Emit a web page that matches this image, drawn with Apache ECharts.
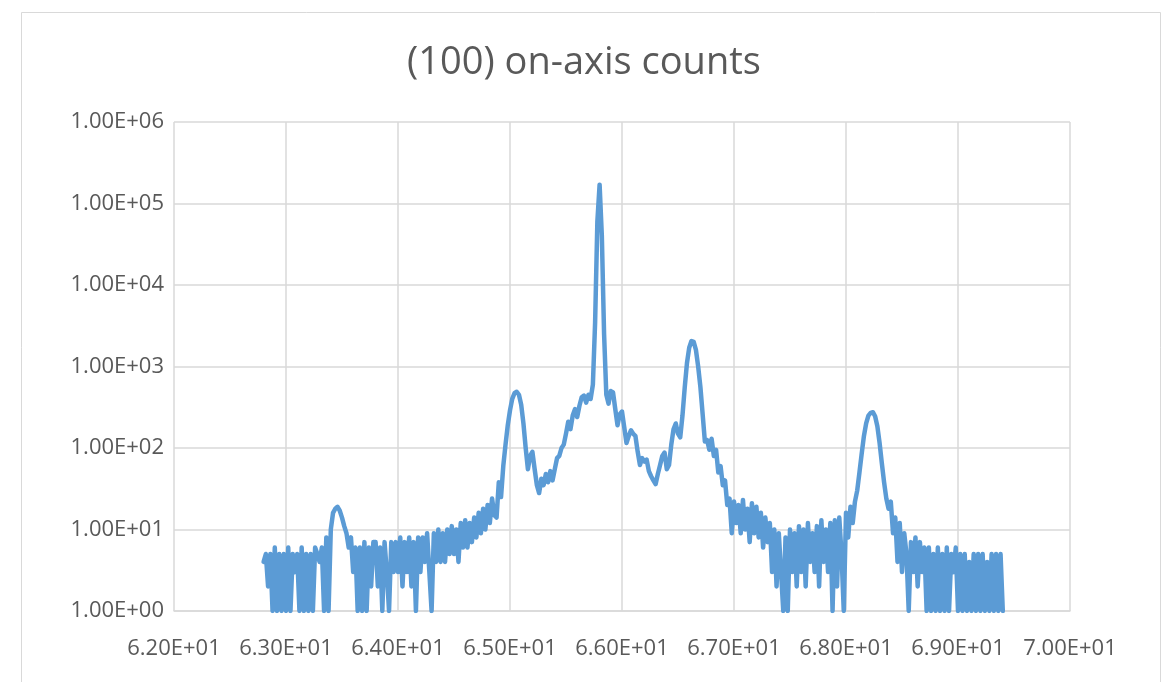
<!DOCTYPE html>
<html><head><meta charset="utf-8">
<script src="https://cdn.jsdelivr.net/npm/echarts@6/dist/echarts.min.js"></script>
<style>html,body{margin:0;padding:0;background:#fff;}#c{width:1168px;height:682px;}</style>
</head><body><div id="c"></div>
<script>
const title = "(100) on-axis counts";
const xTicks = [62, 63, 64, 65, 66, 67, 68, 69, 70];
const yTicks = [1, 10, 100, 1000, 10000, 100000, 1000000];
const angles = [
62.80,62.82,62.84,62.86,62.88,62.90,62.92,62.94,62.96,62.98,
63.00,63.02,63.04,63.06,63.08,63.10,63.12,63.14,63.16,63.18,
63.20,63.22,63.24,63.26,63.28,63.30,63.32,63.34,63.36,63.38,
63.40,63.42,63.44,63.46,63.48,63.50,63.52,63.54,63.56,63.58,
63.60,63.62,63.64,63.66,63.68,63.70,63.72,63.74,63.76,63.78,
63.80,63.82,63.84,63.86,63.88,63.90,63.92,63.94,63.96,63.98,
64.00,64.02,64.04,64.06,64.08,64.10,64.12,64.14,64.16,64.18,
64.20,64.22,64.24,64.26,64.28,64.30,64.32,64.34,64.36,64.38,
64.40,64.42,64.44,64.46,64.48,64.50,64.52,64.54,64.56,64.58,
64.60,64.62,64.64,64.66,64.68,64.70,64.72,64.74,64.76,64.78,
64.80,64.82,64.84,64.86,64.88,64.90,64.92,64.94,64.96,64.98,
65.00,65.02,65.04,65.06,65.08,65.10,65.12,65.14,65.16,65.18,
65.20,65.22,65.24,65.26,65.28,65.30,65.32,65.34,65.36,65.38,
65.40,65.42,65.44,65.46,65.48,65.50,65.52,65.54,65.56,65.58,
65.60,65.62,65.64,65.66,65.68,65.70,65.72,65.74,65.76,65.78,
65.80,65.82,65.84,65.86,65.88,65.90,65.92,65.94,65.96,65.98,
66.00,66.02,66.04,66.06,66.08,66.10,66.12,66.14,66.16,66.18,
66.20,66.22,66.24,66.26,66.28,66.30,66.32,66.34,66.36,66.38,
66.40,66.42,66.44,66.46,66.48,66.50,66.52,66.54,66.56,66.58,
66.60,66.62,66.64,66.66,66.68,66.70,66.72,66.74,66.76,66.78,
66.80,66.82,66.84,66.86,66.88,66.90,66.92,66.94,66.96,66.98,
67.00,67.02,67.04,67.06,67.08,67.10,67.12,67.14,67.16,67.18,
67.20,67.22,67.24,67.26,67.28,67.30,67.32,67.34,67.36,67.38,
67.40,67.42,67.44,67.46,67.48,67.50,67.52,67.54,67.56,67.58,
67.60,67.62,67.64,67.66,67.68,67.70,67.72,67.74,67.76,67.78,
67.80,67.82,67.84,67.86,67.88,67.90,67.92,67.94,67.96,67.98,
68.00,68.02,68.04,68.06,68.08,68.10,68.12,68.14,68.16,68.18,
68.20,68.22,68.24,68.26,68.28,68.30,68.32,68.34,68.36,68.38,
68.40,68.42,68.44,68.46,68.48,68.50,68.52,68.54,68.56,68.58,
68.60,68.62,68.64,68.66,68.68,68.70,68.72,68.74,68.76,68.78,
68.80,68.82,68.84,68.86,68.88,68.90,68.92,68.94,68.96,68.98,
69.00,69.02,69.04,69.06,69.08,69.10,69.12,69.14,69.16,69.18,
69.20,69.22,69.24,69.26,69.28,69.30,69.32,69.34,69.36,69.38,
69.40
];
const counts = [
4,5,2,5,1,6,1,5,1,5,
1,6,1,5,3,5,1,6,1,5,
1,5,1,6,5,4,6,1,8,1,
10,16,18,19,17,14,11,9,6,8,
3,6,1,6,1,7,1,6,2,7,
7,2,6,1,7,3,1,7,3,7,
3,8,2,7,3,8,2,7,1,8,
3,8,4,9,3,1,9,4,10,4,
9,4,10,5,11,5,10,4,12,6,
13,6,12,7,14,8,16,9,18,10,
20,12,24,15,14,38,25,60,110,190,
290,400,470,490,450,340,200,100,55,80,
90,55,35,28,42,35,48,38,52,40,
55,75,80,100,110,150,210,170,250,300,
240,330,420,440,360,450,400,600,3500,60000,
170000,40000,2500,450,350,500,480,300,190,260,
280,180,115,140,165,150,140,90,62,75,
68,72,52,45,40,36,48,62,80,88,
55,62,110,170,200,150,135,250,550,1100,
1700,2050,2000,1600,1000,560,260,120,125,95,
130,80,95,50,60,35,40,20,24,9,
22,12,20,9,23,10,18,7,21,9,
19,8,16,6,14,7,12,3,10,2,
9,3,1,8,1,10,3,9,2,11,
3,10,2,12,4,9,3,11,2,13,
4,10,3,12,1,13,2,14,5,1,
16,8,19,12,22,30,50,85,140,200,
250,270,275,245,185,115,65,38,24,18,
22,9,14,4,12,3,9,5,1,7,
3,8,2,7,3,6,1,6,1,5,
1,6,1,5,1,6,1,5,3,6,
1,5,1,5,1,4,1,5,1,5,
1,5,1,4,1,5,1,5,1,5,
1
];

function sci(v) {
  if (v <= 0) return '';
  let e = Math.floor(Math.log10(v) + 1e-9);
  let m = v / Math.pow(10, e);
  let s = e < 0 ? '-' : '+';
  let ea = Math.abs(e);
  return m.toFixed(2) + 'E' + s + (ea < 10 ? '0' + ea : '' + ea);
}

const font = '"Open Sans", "Noto Sans", sans-serif';
const chart = echarts.init(document.getElementById('c'), null, {renderer: 'canvas'});
chart.setOption({
  animation: false,
  backgroundColor: '#fff',
  graphic: [{
    type: 'rect', left: 19, top: 10, shape: {width: 1139, height: 700},
    style: {fill: 'none', stroke: '#d9d9d9', lineWidth: 1}, silent: true, z: -1
  }],
  title: {
    text: title, left: 'center', top: 39,
    textStyle: {fontFamily: font, fontSize: 38, fontWeight: 'normal', color: '#595959'}
  },
  grid: {left: 174, right: 98, top: 122, bottom: 71, containLabel: false},
  xAxis: {
    type: 'value', min: xTicks[0], max: xTicks[xTicks.length - 1], interval: 1,
    axisLine: {show: true, lineStyle: {color: '#d9d9d9', width: 1.5}},
    axisTick: {show: false},
    splitLine: {show: true, lineStyle: {color: '#d9d9d9', width: 1.5}},
    axisLabel: {formatter: sci, fontFamily: font, fontSize: 22, color: '#595959', margin: 27}
  },
  yAxis: {
    type: 'log', logBase: 10, min: yTicks[0], max: yTicks[yTicks.length - 1],
    axisLine: {show: false},
    axisTick: {show: false},
    splitLine: {show: true, lineStyle: {color: '#d9d9d9', width: 1.5}},
    axisLabel: {formatter: sci, fontFamily: font, fontSize: 22, color: '#595959', margin: 10}
  },
  series: [{
    type: 'line', showSymbol: false, symbol: 'none', sampling: null,
    data: angles.map((a, i) => [a, counts[i]]),
    lineStyle: {color: '#5b9bd5', width: 4.5, join: 'round', cap: 'round'},
    itemStyle: {color: '#5b9bd5'}
  }]
});
</script>
</body></html>
